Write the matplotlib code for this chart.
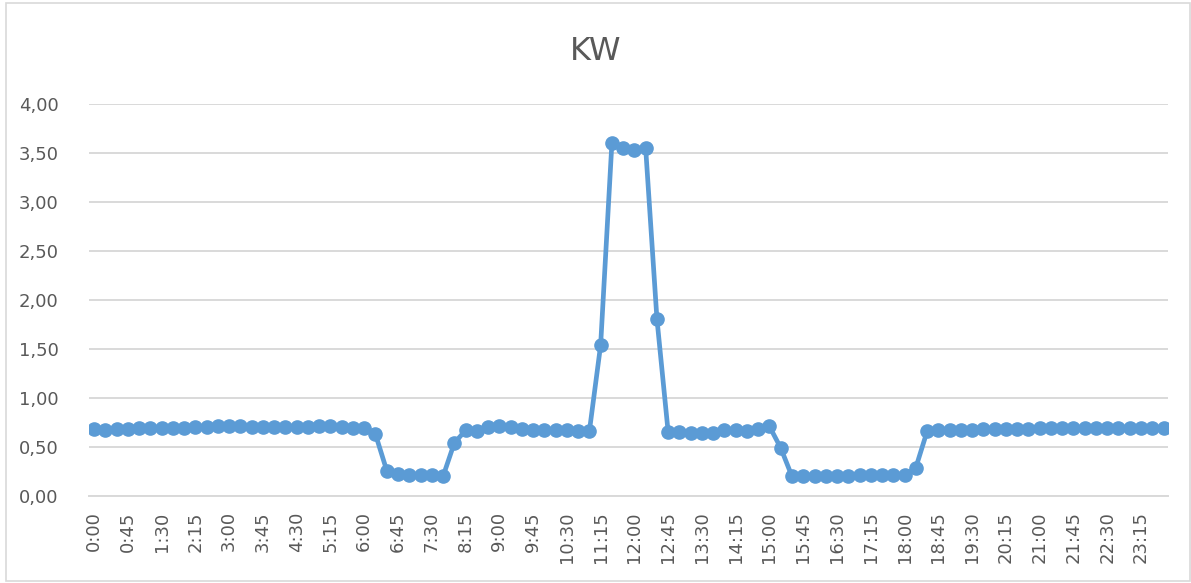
import matplotlib
matplotlib.use("Agg")
import matplotlib.pyplot as plt
from matplotlib.patches import Rectangle

# 15-minute readings over one day
times = ["{}:{:02d}".format(h, m) for h in range(24) for m in (0, 15, 30, 45)]

kw = [
    # 0:00 - 6:00
    0.68, 0.67, 0.68, 0.68, 0.69, 0.69, 0.69, 0.69, 0.69, 0.70,
    0.70, 0.71, 0.71, 0.71, 0.70, 0.70, 0.70, 0.70, 0.70, 0.70,
    0.71, 0.71, 0.70, 0.69, 0.69,
    # 6:15 - 7:45
    0.63, 0.26, 0.22, 0.21, 0.21, 0.21, 0.20,
    # 8:00 - 11:00
    0.54, 0.67, 0.66, 0.70, 0.71, 0.70, 0.68, 0.67, 0.67, 0.67,
    0.67, 0.66, 0.66,
    # 11:15 - 12:30
    1.54, 3.60, 3.55, 3.53, 3.55, 1.81,
    # 12:45 - 15:00
    0.65, 0.65, 0.64, 0.64, 0.645, 0.67, 0.67, 0.66, 0.68, 0.71,
    # 15:15 - 18:15
    0.49, 0.20, 0.20, 0.20, 0.20, 0.20, 0.20, 0.21, 0.21, 0.21,
    0.21, 0.21, 0.29,
    # 18:30 - 23:45
    0.66, 0.67, 0.67, 0.67, 0.67, 0.68, 0.68, 0.68, 0.68, 0.68,
    0.69, 0.69, 0.69, 0.69, 0.69, 0.69, 0.69, 0.69, 0.69, 0.69,
    0.69, 0.69,
]

yticks = [0, 0.5, 1.0, 1.5, 2.0, 2.5, 3.0, 3.5, 4.0]

txt = "#595959"
grid = "#D9D9D9"
blue = "#5B9BD5"

fig = plt.figure(figsize=(11.91, 5.83), dpi=100)
ax = fig.add_axes([0.0747, 0.1492, 0.9060, 0.6724])

x = range(len(kw))
ax.plot(x, kw, color=blue, lw=3.4, marker="o", ms=9.5, zorder=3)

ax.set_ylim(0, 4)
ax.set_xlim(-0.45, len(kw) - 0.6)
ax.set_yticks(yticks)
ax.set_yticklabels(["{:.2f}".format(v).replace(".", ",") for v in yticks])
ax.set_xticks(list(x)[::3])
ax.set_xticklabels(times[::3], rotation=90)

ax.grid(axis="y", color=grid, lw=1.4)
ax.set_axisbelow(True)
for s in ["top", "right", "left"]:
    ax.spines[s].set_visible(False)
ax.spines["bottom"].set_color(grid)
ax.spines["bottom"].set_linewidth(1.4)
ax.tick_params(axis="both", length=0, labelsize=13, colors=txt)
ax.tick_params(axis="y", pad=22)
ax.tick_params(axis="x", pad=11)

fig.text(0.5, 0.912, "KW", ha="center", va="center", fontsize=23, color=txt)

# outer chart border
fig.patches.append(Rectangle((0.005, 0.004), 0.994, 0.99, transform=fig.transFigure,
                             fill=False, edgecolor=grid, lw=1.2))

fig.savefig("out.png", dpi=100)
